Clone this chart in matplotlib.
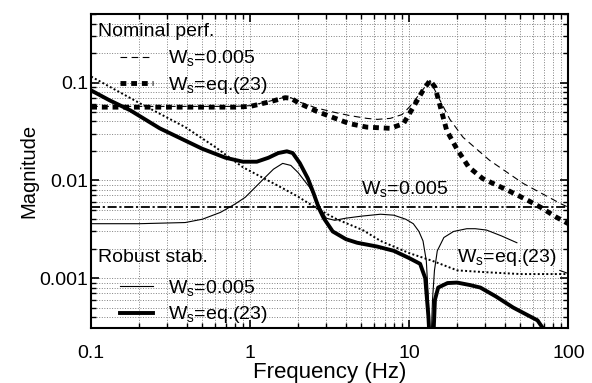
import numpy as np
import matplotlib
matplotlib.use("Agg")
import matplotlib.pyplot as plt

plt.rcParams['font.family'] = ['Liberation Sans', 'DejaVu Sans']
plt.rcParams['mathtext.fontset'] = 'custom'
plt.rcParams['mathtext.rm'] = 'Liberation Sans'

# Nominal performance, Ws = 0.005 (thin dashed)
nom_c_f = [0.1, 0.2, 0.5, 0.8, 1.0, 1.3, 1.66, 1.8, 2.05, 2.6, 3.3, 4.2, 5.4, 6.3, 7.6, 9.0,
           10.0, 11.0, 12.2, 13.5, 15.3, 18.0, 21.8, 32.0, 52.0, 89.0, 100.0]
nom_c_m = [0.057, 0.057, 0.057, 0.057, 0.058, 0.064, 0.071, 0.070, 0.063, 0.055, 0.050, 0.046,
           0.043, 0.042, 0.043, 0.047, 0.056, 0.068, 0.085, 0.105, 0.070, 0.042, 0.0275, 0.016,
           0.0093, 0.0058, 0.0053]

# Nominal performance, Ws = eq.(23) (thick dashed)
nom_w_f = [0.1, 0.2, 0.5, 0.8, 1.0, 1.3, 1.66, 1.8, 2.05, 2.6, 3.3, 4.2, 5.4, 7.6, 9.2, 10.6,
           12.2, 13.5, 14.5, 15.3, 17.2, 19.9, 23.6, 29.0, 41.0, 55.0, 67.0, 84.0, 100.0]
nom_w_m = [0.056, 0.056, 0.056, 0.056, 0.057, 0.063, 0.070, 0.069, 0.061, 0.051, 0.044, 0.038,
           0.035, 0.034, 0.038, 0.056, 0.083, 0.105, 0.090, 0.0655, 0.0323, 0.021, 0.0137,
           0.0104, 0.008, 0.0063, 0.0053, 0.0042, 0.0036]

# Robust stability, Ws = 0.005 (thin solid)
rob_c_f = [0.1, 0.2, 0.39, 0.5, 0.65, 0.8, 0.93, 1.1, 1.24, 1.4, 1.6, 1.8, 2.0, 2.36, 2.75,
           3.0, 3.4, 4.0, 5.0, 6.6, 8.0, 9.5, 10.6, 11.5, 12.2, 12.8, 13.2, 13.6, 14.0, 14.4,
           15.0, 16.5, 19.0, 23.0, 26.0, 30.6, 38.0, 47.5]
rob_c_m = [0.0036, 0.0036, 0.0037, 0.0040, 0.0047, 0.0057, 0.0067, 0.0088, 0.0107, 0.013,
           0.0149, 0.0142, 0.012, 0.0085, 0.0053, 0.0041, 0.0039, 0.0041, 0.0043, 0.0045,
           0.0044, 0.0040, 0.0036, 0.0030, 0.0024, 0.0015, 0.0006, 0.00015, 0.0006, 0.0012,
           0.0019, 0.0026, 0.0030, 0.0032, 0.0032, 0.0031, 0.0027, 0.0023]

# Robust stability, Ws = eq.(23) (thick solid)
rob_w_f = [0.1, 0.13, 0.176, 0.27, 0.4, 0.5, 0.7, 0.9, 1.1, 1.3, 1.5, 1.7, 1.85, 2.05, 2.3,
           2.5, 2.7, 2.9, 3.3, 4.0, 4.7, 6.3, 8.0, 10.0, 11.7, 12.6, 13.2, 13.6, 14.0, 14.5,
           15.2, 17.4, 20.0, 24.0, 28.0, 35.0, 45.0, 64.0, 72.0]
rob_w_m = [0.083, 0.066, 0.052, 0.034, 0.025, 0.021, 0.017, 0.0155, 0.0155, 0.017, 0.019,
           0.0198, 0.019, 0.015, 0.0105, 0.0074, 0.0052, 0.0041, 0.0030, 0.0025, 0.0023,
           0.0021, 0.0019, 0.0016, 0.0014, 0.0010, 0.0004, 0.00015, 0.00015, 0.0006, 0.0008,
           0.00089, 0.0009, 0.00085, 0.0008, 0.00065, 0.0005, 0.00037, 0.00028]

# Weighting functions
ws_eq_f = [0.1, 0.2, 0.39, 0.6, 0.9, 1.19, 1.6, 2.0, 2.6, 3.5, 5.1, 6.6, 8.0, 10.0, 14.0,
           20.0, 30.0, 50.0, 100.0]
ws_eq_m = [0.115, 0.062, 0.035, 0.022, 0.0136, 0.0107, 0.0083, 0.0068, 0.0052, 0.0040,
           0.0031, 0.0024, 0.0021, 0.0018, 0.0015, 0.0012, 0.00115, 0.0011, 0.0011]
ws_c_f = [0.1, 100.0]
ws_c_m = [0.0053, 0.0053]

labels = [r'W$_{\rm s}$=0.005', r'W$_{\rm s}$=eq.(23)']
FS = 14


def main():
    fig = plt.figure(figsize=(5.92, 3.83), dpi=100)
    ax = fig.add_axes([0.154, 0.144, 0.806, 0.819])

    ax.plot(ws_eq_f, ws_eq_m, color='k', lw=1.4, dashes=(1.0, 1.2))
    ax.plot(ws_c_f, ws_c_m, color='k', lw=1.3, dashes=(5, 1.5, 1.2, 1.5))
    l1, = ax.plot(nom_c_f, nom_c_m, color='k', lw=0.8, dashes=(6, 4))
    l2, = ax.plot(nom_w_f, nom_w_m, color='k', lw=3.5, dashes=(1.2, 1.0))
    l3, = ax.plot(rob_c_f, rob_c_m, color='k', lw=0.8)
    l4, = ax.plot(rob_w_f, rob_w_m, color='k', lw=2.8)

    ax.set_xscale('log')
    ax.set_yscale('log')
    ax.set_xlim(0.1, 100)
    ax.set_ylim(3.1e-4, 0.5)
    ax.set_xticks([0.1, 1, 10, 100])
    ax.set_xticklabels(['0.1', '1', '10', '100'])
    ax.set_yticks([0.001, 0.01, 0.1])
    ax.set_yticklabels(['0.001', '0.01', '0.1'])
    ax.tick_params(which='both', direction='in', top=True, right=True, labelsize=FS)
    ax.tick_params(which='major', length=6, width=1.2)
    ax.tick_params(which='minor', length=3.5, width=1.0)
    ax.tick_params(axis='x', which='major', pad=12)
    ax.tick_params(axis='y', which='major', pad=2)
    ax.grid(which='both', linestyle=':', color='0.5', linewidth=0.7)
    for s in ax.spines.values():
        s.set_linewidth(1.5)

    ax.set_xlabel('Frequency (Hz)', fontsize=16, labelpad=0)
    ax.set_ylabel('Magnitude', fontsize=14.5, labelpad=1)

    # legend titles as plain text, entries indented below them
    ax.text(0.015, 0.945, 'Nominal perf.', transform=ax.transAxes, fontsize=FS, va='center')
    leg1 = ax.legend([l1, l2], labels, loc='upper left', frameon=False, fontsize=FS,
                     handlelength=1.65, handletextpad=0.8, borderaxespad=0.0,
                     labelspacing=0.3, bbox_to_anchor=(0.045, 0.915))
    ax.add_artist(leg1)
    ax.text(0.015, 0.225, 'Robust stab.', transform=ax.transAxes, fontsize=FS, va='center')
    ax.legend([l3, l4], labels, loc='lower left', frameon=False, fontsize=FS,
              handlelength=1.65, handletextpad=0.8, borderaxespad=0.0,
              labelspacing=0.3, bbox_to_anchor=(0.045, -0.017))

    ax.text(5.0, 0.0079, labels[0], fontsize=FS, va='center')
    ax.annotate(labels[1], xy=(99, 0.00112), xytext=(20, 0.00164), va='center',
                fontsize=FS, arrowprops=dict(arrowstyle='-', lw=0.8, color='k',
                                             shrinkA=0, shrinkB=0,
                                             relpos=(0.95, 0.0)))

    fig.savefig('out.png', dpi=100)


if __name__ == '__main__':
    main()
